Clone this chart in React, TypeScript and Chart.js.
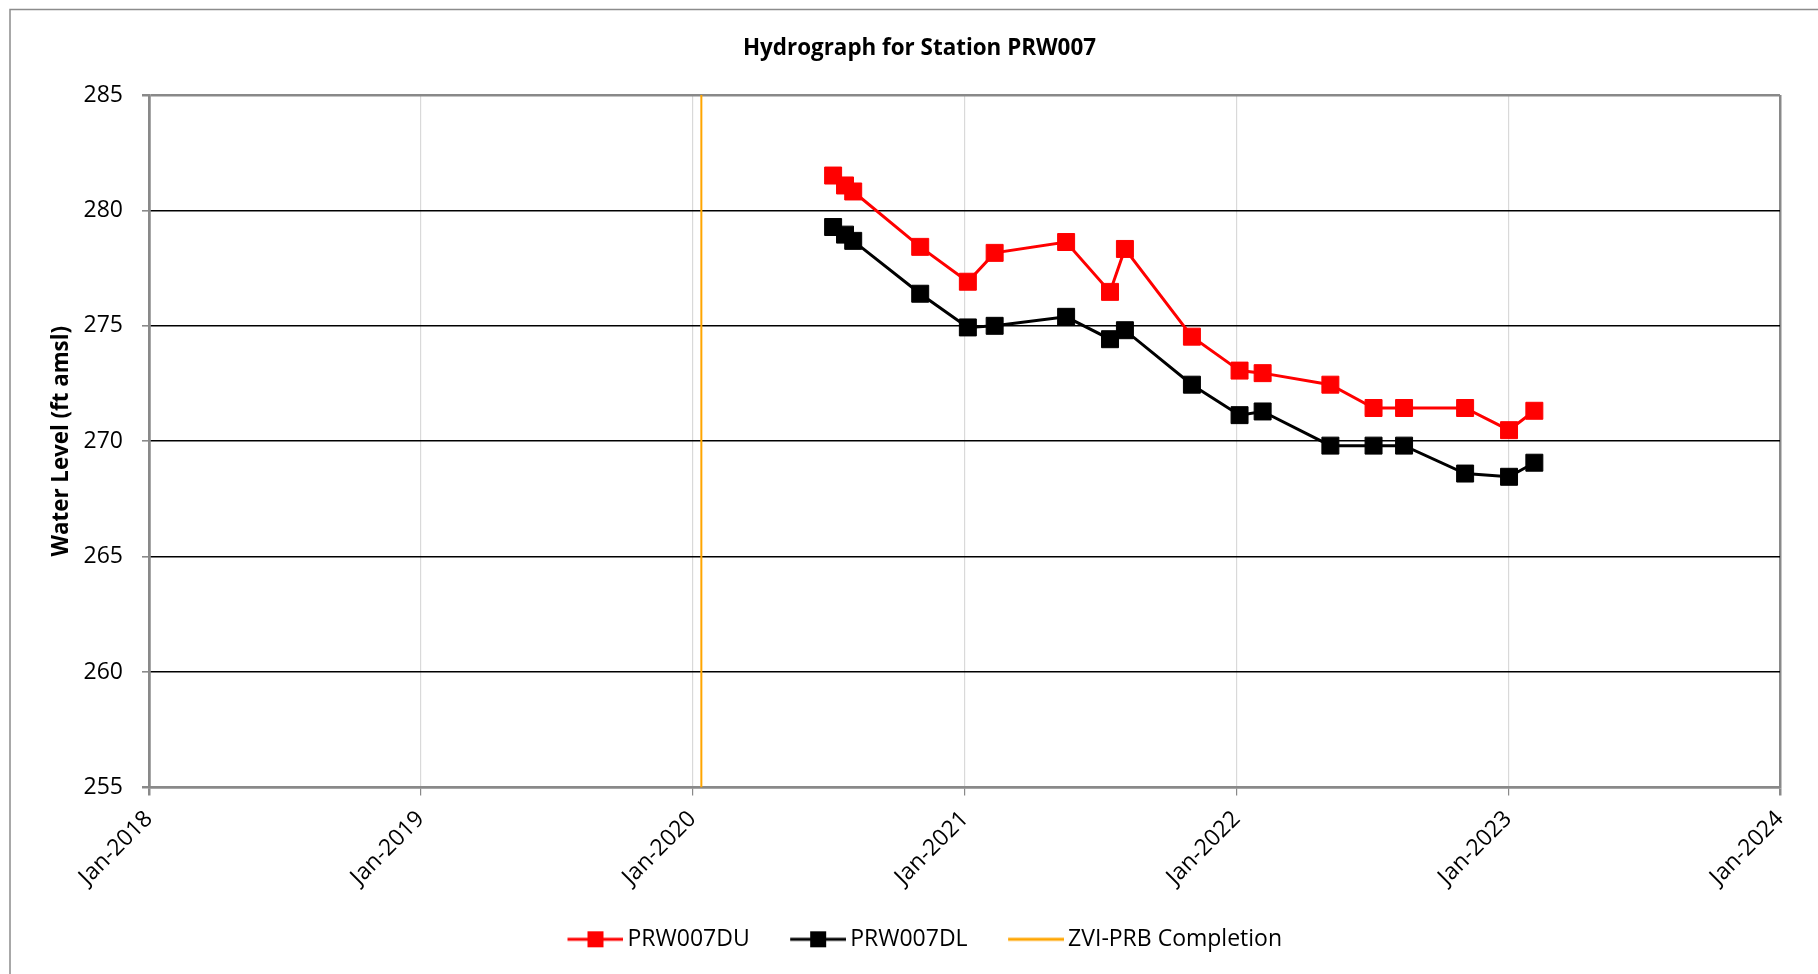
import React, { useEffect, useRef } from 'react';
import { Chart, registerables } from 'chart.js';

Chart.register(...registerables);

// ---- data ----
const chartTitle = 'Hydrograph for Station PRW007';
const yAxisTitle = 'Water Level (ft amsl)';
const sampleDates = [
  '2020-07-08', '2020-07-24', '2020-08-04', '2020-11-02', '2021-01-05', '2021-02-10',
  '2021-05-17', '2021-07-15', '2021-08-04', '2021-11-02', '2022-01-05', '2022-02-05',
  '2022-05-07', '2022-07-04', '2022-08-14', '2022-11-04', '2023-01-02', '2023-02-05',
];
const duLevels = [
  281.51, 281.08, 280.82, 278.42, 276.91, 278.16, 278.63, 276.47, 278.33, 274.53,
  273.06, 272.95, 272.45, 271.44, 271.44, 271.44, 270.48, 271.32,
];
const dlLevels = [
  279.28, 278.95, 278.68, 276.39, 274.93, 275.0, 275.39, 274.42, 274.81, 272.45,
  271.13, 271.29, 269.81, 269.81, 269.81, 268.6, 268.46, 269.07,
];
const seriesNames = ['PRW007DU', 'PRW007DL', 'ZVI-PRB Completion'];
const zviDate = '2020-01-13';
const yMin = 255;
const yMax = 285;
const yStep = 5;
const tickYears = [2018, 2019, 2020, 2021, 2022, 2023, 2024];
const tickMonth = 'Jan';

const toMs = (d: string) => {
  const [y, m, dd] = d.split('-').map(Number);
  return Date.UTC(y, m - 1, dd);
};

const GRAY = '#898989';
const ICON_W = 74;
const ICON_BOX = 59;

function makeIcon(color: string, marker: boolean): HTMLCanvasElement {
  const c = document.createElement('canvas');
  c.width = ICON_W;
  c.height = 20;
  const g = c.getContext('2d')!;
  const x0 = ICON_W - 56;
  g.strokeStyle = color;
  g.lineWidth = 3;
  g.beginPath();
  g.moveTo(x0, 10);
  g.lineTo(ICON_W, 10);
  g.stroke();
  if (marker) {
    g.fillStyle = color;
    g.fillRect(x0 + 28 - 8, 10 - 8, 16, 16);
  }
  return c;
}

export default function App() {
  const ref = useRef<HTMLCanvasElement | null>(null);

  useEffect(() => {
    document.body.style.margin = '0';
    document.body.style.overflow = 'hidden';
    const canvas = ref.current!;
    Chart.defaults.font.family = "'Open Sans', sans-serif";
    Chart.defaults.color = '#000';

    const icons = [makeIcon('#FF0000', true), makeIcon('#000000', true), makeIcon('#FFA500', false)];

    const frame = {
      id: 'frame',
      beforeDraw(chart: any) {
        const { ctx, width, height } = chart;
        ctx.save();
        ctx.fillStyle = '#fff';
        ctx.fillRect(0, 0, width, height);
        ctx.strokeStyle = '#8c8c8c';
        ctx.lineWidth = 1.5;
        ctx.beginPath();
        ctx.moveTo(10, height);
        ctx.lineTo(10, 9.5);
        ctx.lineTo(width, 9.5);
        ctx.stroke();
        ctx.restore();
      },
    };

    const xMin = Date.UTC(tickYears[0], 0, 1);
    const xMax = Date.UTC(tickYears[tickYears.length - 1], 0, 1);
    const isEdgeX = (v: number) => v === xMin || v === xMax;

    const chart = new Chart(canvas, {
      type: 'line',
      data: {
        datasets: [
          {
            label: seriesNames[0],
            data: sampleDates.map((d, i) => ({ x: toMs(d), y: duLevels[i] })),
            borderColor: '#FF0000',
            backgroundColor: '#FF0000',
            borderWidth: 3,
            pointStyle: 'rect',
            pointRadius: 12,
            pointBorderWidth: 1,
            pointBorderColor: '#FF0000',
            pointBackgroundColor: '#FF0000',
            tension: 0,
          },
          {
            label: seriesNames[1],
            data: sampleDates.map((d, i) => ({ x: toMs(d), y: dlLevels[i] })),
            borderColor: '#000000',
            backgroundColor: '#000000',
            borderWidth: 3,
            pointStyle: 'rect',
            pointRadius: 12,
            pointBorderWidth: 1,
            pointBorderColor: '#000000',
            pointBackgroundColor: '#000000',
            tension: 0,
          },
          {
            label: seriesNames[2],
            data: [
              { x: toMs(zviDate), y: yMin },
              { x: toMs(zviDate), y: yMax },
            ],
            borderColor: '#FFA500',
            backgroundColor: '#FFA500',
            borderWidth: 2,
            pointRadius: 0,
            tension: 0,
          },
        ],
      },
      options: {
        responsive: false,
        animation: false,
        devicePixelRatio: 1,
        events: [],
        layout: { padding: { left: 21, right: 0, top: 0, bottom: 13.2 } },
        plugins: {
          title: {
            display: true,
            text: chartTitle,
            color: '#000',
            font: { size: 22.4, weight: 'bold' },
            padding: { top: 35, bottom: 33.1 },
          },
          legend: {
            position: 'bottom',
            labels: {
              usePointStyle: true,
              pointStyleWidth: ICON_BOX,
              padding: 30,
              color: '#000',
              font: { size: 23 },
              generateLabels: (ch: any) => {
                const items = (Chart.defaults.plugins.legend.labels as any).generateLabels(ch);
                items.forEach((it: any, i: number) => {
                  it.pointStyle = icons[i];
                });
                return items;
              },
            },
          },
          tooltip: { enabled: false },
        },
        scales: {
          x: {
            type: 'linear',
            min: xMin,
            max: xMax,
            afterBuildTicks: (scale: any) => {
              scale.ticks = tickYears.map((y) => ({ value: Date.UTC(y, 0, 1) }));
            },
            afterFit: (scale: any) => {
              scale.height = 110.3;
            },
            ticks: {
              autoSkip: false,
              maxRotation: 45,
              minRotation: 45,
              padding: 10,
              font: { size: 23 },
              color: '#000',
              callback: (v: any) => `${tickMonth}-${new Date(Number(v)).getUTCFullYear()}`,
            },
            grid: {
              color: (c: any) => (isEdgeX(c.tick?.value) ? GRAY : '#d9d9d9'),
              lineWidth: (c: any) => (isEdgeX(c.tick?.value) ? 2.5 : 1.2),
              tickColor: GRAY,
              tickLength: 8,
            },
            border: { display: true, color: GRAY, width: 2.5 },
          },
          y: {
            type: 'linear',
            min: yMin,
            max: yMax,
            afterFit: (scale: any) => {
              scale.width = 128;
            },
            ticks: {
              stepSize: yStep,
              padding: 19,
              font: { size: 23 },
              color: '#000',
            },
            grid: {
              color: (c: any) => (c.tick?.value === yMin || c.tick?.value === yMax ? GRAY : '#000'),
              lineWidth: (c: any) => (c.tick?.value === yMin || c.tick?.value === yMax ? 2.5 : 1.6),
              tickColor: GRAY,
              tickLength: 7,
            },
            border: { display: true, color: GRAY, width: 2.5 },
            title: {
              display: true,
              text: yAxisTitle,
              color: '#000',
              font: { size: 22.3, weight: 'bold' },
              padding: { top: 27.3, bottom: 0 },
            },
          },
          yRight: {
            type: 'linear',
            position: 'right',
            display: true,
            afterFit: (scale: any) => {
              scale.width = 38;
            },
            ticks: { display: false },
            grid: { display: false, drawTicks: false },
            border: { display: false },
          },
        },
      } as any,
      plugins: [frame],
    });

    return () => chart.destroy();
  }, []);

  return (
    <div style={{ position: 'absolute', left: 0, top: 0, width: 1818, height: 974 }}>
      <canvas ref={ref} width={1818} height={974} />
    </div>
  );
}
